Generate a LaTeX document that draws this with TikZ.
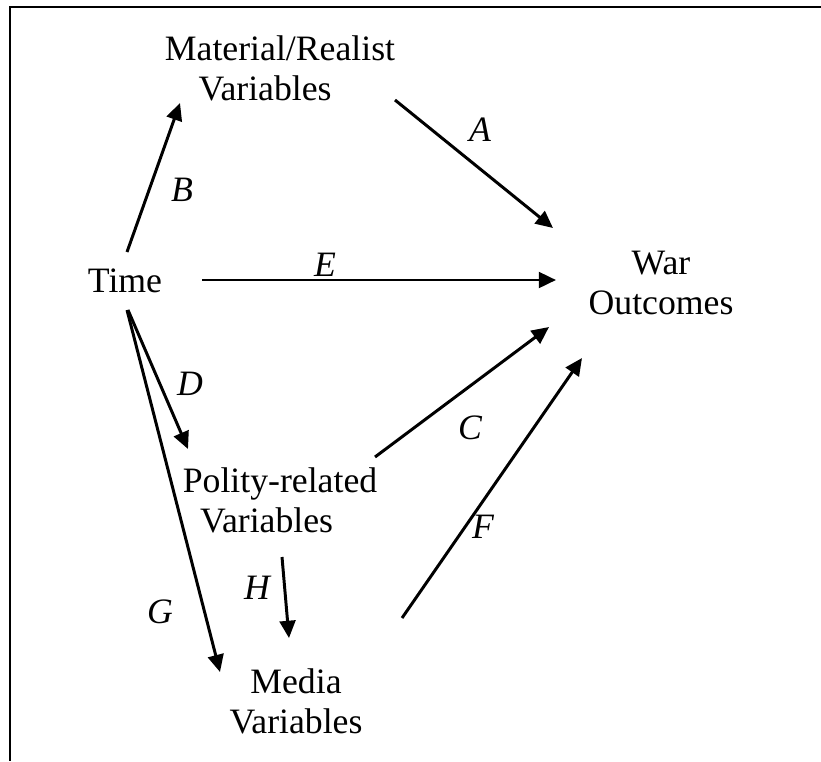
\documentclass[tikz,border=0pt]{standalone}
\usepackage{fontspec}
\setmainfont{Liberation Serif}
\usetikzlibrary{arrows.meta}
\tikzset{
  every picture/.style={line width=1pt},
  var/.style={align=center, inner sep=0pt, font=\fontsize{12pt}{13.4pt}\selectfont},
  arr/.style={-{Triangle[length=5.8pt, width=5.3pt]}},
  lbl/.style={font=\fontsize{12pt}{13.4pt}\selectfont\itshape, inner sep=0pt},
}

\begin{document}
\begin{tikzpicture}[x=0.336pt, y=-0.336pt]
  \useasboundingbox (0,0) rectangle (821,761);
  \draw[line width=0.9pt] (821,7) -| (10,761);
  % variables
  \node[var] (time) at (125,281) {Time};
  \node[var] (mat) at (280,68) {Material/Realist\\Variables\kern10pt};
  \node[var] (war) at (661,283) {War\\Outcomes};
  \node[var] (pol) at (280,500) {Polity-related\\Variables\kern9pt};
  \node[var] (med) at (296,701) {Media\\Variables};
  % paths
  \draw[arr] ([shift={(2,-29)}]time.center) -- ([shift={(-100,35)}]mat.center);
  \draw[arr] ([shift={(115,32)}]mat.center) -- ([shift={(-108,-55)}]war.center);
  \draw[arr] ([shift={(77,-1)}]time.center) -- ([shift={(-105,-3)}]war.center);
  \draw[arr] ([shift={(3,29)}]time.center) -- ([shift={(-92,-51)}]pol.center);
  \draw[arr] ([shift={(2,29)}]time.center) -- ([shift={(-76,-29)}]med.center);
  \draw[arr] ([shift={(2,57)}]pol.center) -- ([shift={(-7,-63)}]med.center);
  \draw[arr] ([shift={(95,-43)}]pol.center) -- ([shift={(-112,44)}]war.center);
  \draw[arr] ([shift={(106,-83)}]med.center) -- ([shift={(-79,75)}]war.center);
  % labels
  \node[lbl] (la) at (480,130) {A};
  \node[lbl] (lb) at (182,190) {B};
  \node[lbl] (lc) at (470,428) {C};
  \node[lbl] (ld) at (190,384) {D};
  \node[lbl] (le) at (325,265) {E};
  \node[lbl] (lf) at (483,527) {F};
  \node[lbl] (lg) at (160,612) {G};
  \node[lbl] (lh) at (257,588) {H};
\end{tikzpicture}
\end{document}
